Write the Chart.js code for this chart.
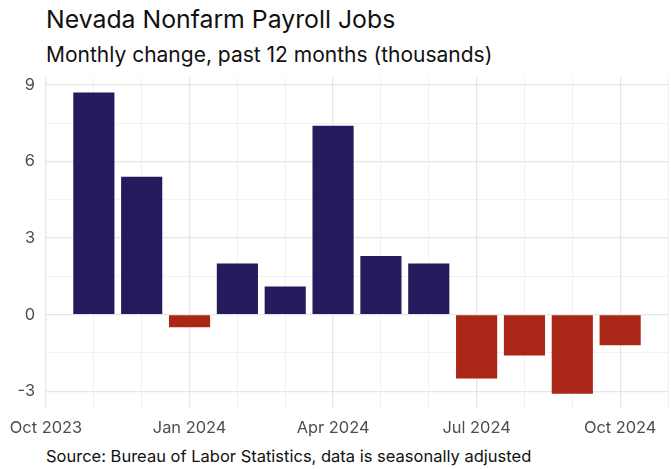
<!DOCTYPE html>
<html>
<head>
<meta charset="utf-8">
<script src="https://cdn.jsdelivr.net/npm/chart.js@4"></script>
<style>
  html, body { margin: 0; padding: 0; background: #fff; }
  #wrap { position: relative; width: 671px; height: 469px; font-family: Inter, "Noto Sans", sans-serif; line-height: 1; }
  .title { position: absolute; left: 46px; top: 7px; font-size: 24.8px; color: #111; white-space: nowrap; }
  .subtitle { position: absolute; left: 46px; top: 44px; font-size: 21px; color: #111; white-space: nowrap; }
  .caption { position: absolute; left: 46px; top: 448px; font-size: 16.5px; color: #111; white-space: nowrap; }
  #chartBox { position: absolute; left: 0; top: 70px; width: 671px; height: 370px; }
</style>
</head>
<body>
<div id="wrap">
  <div class="title">Nevada Nonfarm Payroll Jobs</div>
  <div class="subtitle">Monthly change, past 12 months (thousands)</div>
  <div id="chartBox"><canvas id="jobsChart"></canvas></div>
  <div class="caption">Source: Bureau of Labor Statistics, data is seasonally adjusted</div>
</div>
<script>
// months shown, Nov 2023 .. Oct 2024 (axis starts at Oct 2023 = 0)
const months = ["Nov 2023", "Dec 2023", "Jan 2024", "Feb 2024", "Mar 2024", "Apr 2024",
                "May 2024", "Jun 2024", "Jul 2024", "Aug 2024", "Sep 2024", "Oct 2024"];
const jobChange = [8.7, 5.4, -0.5, 2.0, 1.1, 7.4, 2.3, 2.0, -2.5, -1.6, -3.1, -1.2];
const xTickLabels = ["Oct 2023", "Jan 2024", "Apr 2024", "Jul 2024", "Oct 2024"];
const yTicks = [-3, 0, 3, 6, 9];

const POS = "#231b5c";
const NEG = "#aa2718";

const points = jobChange.map((v, i) => ({ x: i + 1, y: v }));

function gridWidth(isMajor) { return isMajor ? 1.3 : 0.8; }
function gridColor(isMajor) { return isMajor ? "#e6e6e6" : "#efefef"; }

// drop the label overhang padding chart.js adds around the plot
function noOverhang(axis) {
  axis.paddingTop = 0;
  axis.paddingBottom = 0;
  axis.paddingLeft = 0;
  axis.paddingRight = 0;
}

new Chart(document.getElementById("jobsChart"), {
  type: "bar",
  data: {
    datasets: [{
      label: "Jobs change",
      data: points,
      backgroundColor: jobChange.map(v => v >= 0 ? POS : NEG),
      borderWidth: 0,
      barPercentage: 0.86,
      categoryPercentage: 1
    }]
  },
  options: {
    responsive: true,
    maintainAspectRatio: false,
    animation: false,
    layout: { padding: { top: 7, right: 3, left: 0, bottom: 0 } },
    plugins: { legend: { display: false }, tooltip: { enabled: false } },
    scales: {
      x: {
        type: "linear",
        min: 0,
        max: 13,
        offset: false,
        afterBuildTicks: axis => {
          const t = [];
          for (let i = 0; i <= months.length + 1; i++) t.push({ value: i });
          axis.ticks = t;
        },
        afterFit: axis => { axis.height = 32; noOverhang(axis); },
        grid: {
          offset: false,
          drawTicks: false,
          lineWidth: c => gridWidth(c.tick && c.tick.value % 3 === 0),
          color: c => gridColor(c.tick && c.tick.value % 3 === 0)
        },
        border: { display: false },
        ticks: {
          autoSkip: false,
          maxRotation: 0,
          padding: 10,
          color: "#4d4d4d",
          font: { family: "Inter", size: 16.4 },
          callback: v => (v % 3 === 0 && v / 3 < xTickLabels.length) ? xTickLabels[v / 3] : ""
        }
      },
      y: {
        min: -3.66,
        max: 9.31,
        afterBuildTicks: axis => {
          const t = [];
          for (let v = -3; v <= 9; v += 1.5) t.push({ value: v });
          axis.ticks = t;
        },
        afterFit: axis => { axis.width = 46; noOverhang(axis); },
        grid: {
          drawTicks: false,
          lineWidth: c => gridWidth(c.tick && yTicks.includes(c.tick.value)),
          color: c => gridColor(c.tick && yTicks.includes(c.tick.value))
        },
        border: { display: false },
        ticks: {
          padding: 11,
          color: "#4d4d4d",
          font: { family: "Inter", size: 16.4 },
          callback: v => yTicks.includes(v) ? String(v) : ""
        }
      }
    }
  }
});
</script>
</body>
</html>
